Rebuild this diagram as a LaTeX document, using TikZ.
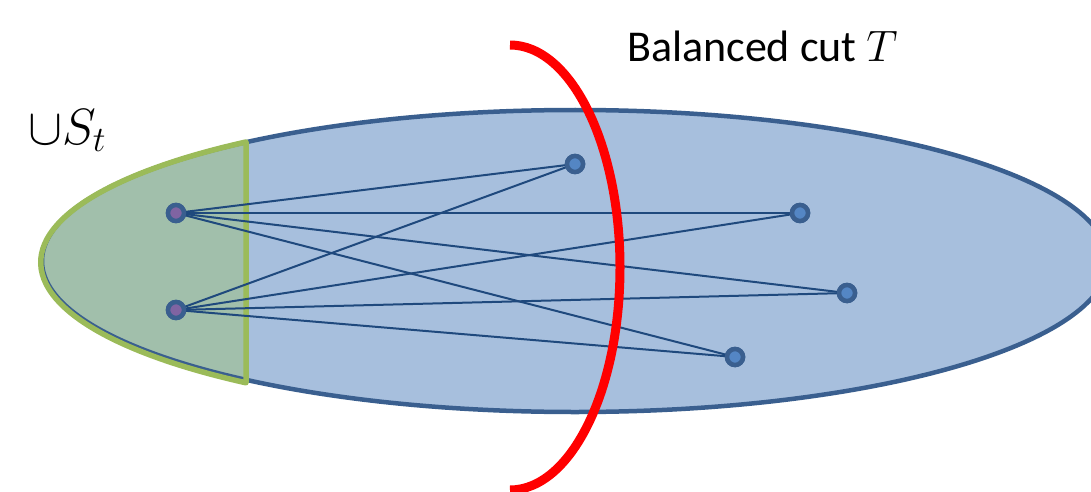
\RequirePackage{fix-cm}
\documentclass[tikz,border=0pt]{standalone}
\usepackage{fontspec}
\setmainfont{Carlito}
\definecolor{ellfill}{RGB}{167,191,221}
\definecolor{ellline}{RGB}{58,95,143}
\definecolor{grfill}{RGB}{161,191,171}
\definecolor{grline}{RGB}{155,187,89}
\definecolor{edgecol}{RGB}{31,73,125}
\definecolor{nodein}{RGB}{84,134,196}
\definecolor{nodepurp}{RGB}{128,100,162}
\definecolor{cutred}{RGB}{255,0,0}
\tikzset{
  vert/.style={circle, inner sep=0pt, minimum size=16pt, draw=ellline, line width=4.5pt, fill=nodein},
  vertS/.style={vert, fill=nodepurp},
  edge/.style={draw=edgecol, line width=2pt},
  lbl/.style={inner sep=0pt, anchor=base west}
}
\begin{document}
\begin{tikzpicture}[x=1pt,y=-1pt]
\useasboundingbox (0,0) rectangle (1091,492);
\clip (0,0) rectangle (1091,492);
% main ellipse
\fill[ellfill] (575,261) ellipse[x radius=533, y radius=151];
% green region
\begin{scope}
  \clip (0,0) rectangle (246,492);
  \fill[grfill] (575,261) ellipse[x radius=531, y radius=149];
\end{scope}
\draw[ellline, line width=4.5pt] (575,261) ellipse[x radius=533, y radius=151];
\draw[grline, line width=5.5pt, line join=round] (246,142) arc[start angle=231.9, end angle=128.1, x radius=536, y radius=153] -- cycle;
% vertices
\node[vertS] (A) at (176,213) {};
\node[vertS] (B) at (176,310) {};
\node[vert] (C) at (575,164) {};
\node[vert] (D) at (800,213) {};
\node[vert] (E) at (847,293) {};
\node[vert] (F) at (735,357) {};
% edges
\path[edge] (A.center) -- (C.center);
\path[edge] (A.center) -- (D.center);
\path[edge] (A.center) -- (E.center);
\path[edge] (A.center) -- (F.center);
\path[edge] (B.center) -- (C.center);
\path[edge] (B.center) -- (D.center);
\path[edge] (B.center) -- (E.center);
\path[edge] (B.center) -- (F.center);
% redraw vertices on top
\node[vertS] at (A.center) {};
\node[vertS] at (B.center) {};
\node[vert] at (C.center) {};
\node[vert] at (D.center) {};
\node[vert] at (E.center) {};
\node[vert] at (F.center) {};
% cut
\draw[cutred, line width=9pt] (510,45) arc[start angle=-90, end angle=90, x radius=110, y radius=222.5];
% labels
\node[lbl] (cut) at (627,62) {\fontsize{44}{52}\selectfont Balanced cut $T$};
\node[lbl] (st) at (28,144) {\fontsize{51}{60}\selectfont $\cup S_t$};
\end{tikzpicture}
\end{document}
